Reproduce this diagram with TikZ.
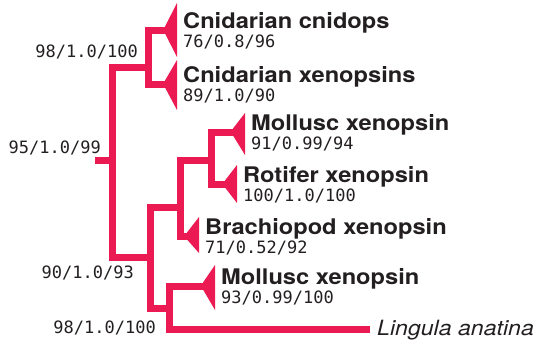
\documentclass[tikz,border=0pt]{standalone}
\usepackage{fontspec}
\newfontfamily\labfont{TeX Gyre Heros}[FakeStretch=1.1]
\newfontfamily\numfont{DejaVu Sans Mono}
\definecolor{treered}{RGB}{236,26,82}
\definecolor{ink}{RGB}{35,31,32}
\newcommand\treetip[7]{%
  \coordinate (#1) at (#2,#3);
  \fill[treered] (#2+12,#3-#4) -- (#2,#3-3.5) -- (#2,#3+3.5) -- (#2+12,#3+#5) -- cycle;
  \node[taxon] (#1-lab) at (#2+18,#3-2) {#6};
  \node[support] (#1-sup) at (#2+18,#3+17) {#7};
}
\begin{document}
\begin{tikzpicture}[x=1pt,y=-1pt,
  branch/.style={draw=treered, line width=7pt},
  taxon/.style={anchor=base west, inner sep=0pt, text=ink,
    font=\labfont\bfseries\fontsize{21.5}{24}\selectfont},
  support/.style={anchor=base west, inner sep=0pt, text=ink,
    font=\numfont\fontsize{17}{20}\selectfont},
  nodesup/.style={anchor=base east, inner sep=0pt, text=ink,
    font=\numfont\fontsize{17}{20}\selectfont},
  species/.style={anchor=base west, inner sep=0pt, text=ink,
    font=\labfont\itshape\fontsize{21}{24}\selectfont}]
\useasboundingbox (0,0) rectangle (538,343);

% tips
\treetip{cnid}{165}{30}{27}{27}{Cnidarian cnidops}{76/0.8/96}
\treetip{cnidx}{165}{84}{24}{26}{Cnidarian xenopsins}{89/1.0/90}
\treetip{mollA}{233}{132}{19}{23}{Mollusc xenopsin}{91/0.99/94}
\treetip{rot}{225}{184}{19}{19}{Rotifer xenopsin}{100/1.0/100}
\treetip{brach}{187}{236}{19}{17}{Brachiopod xenopsin}{71/0.52/92}
\treetip{mollB}{203}{286}{21}{24}{Mollusc xenopsin}{93/0.99/100}

% internal nodes
\coordinate (stub) at (95,160);
\coordinate (root) at (112,160);
\coordinate (cn) at (148,67);
\coordinate (bil) at (150,257);
\coordinate (lopho) at (180,207);
\coordinate (mr) at (211,160);
\coordinate (ml) at (169,308);
\coordinate (ling) at (370,329);

\draw[branch] (stub) -- (root);
\draw[branch] (root) |- (cn);
\draw[branch] (root) |- (bil);
\draw[branch] (cn) |- (cnid);
\draw[branch] (cn) |- (cnidx);
\draw[branch] (bil) |- (lopho);
\draw[branch] (bil) |- (ml);
\draw[branch] (lopho) |- (mr);
\draw[branch] (lopho) |- (brach);
\draw[branch] (mr) |- (mollA);
\draw[branch] (mr) |- (rot);
\draw[branch] (ml) |- (mollB);
\draw[branch] (ml) |- (ling);

\node[species] (ling-lab) at (377,335) {Lingula anatina};

% support values at internal nodes
\node[nodesup] (cn-sup) at (138,57) {98/1.0/100};
\node[nodesup] (root-sup) at (101,153) {95/1.0/99};
\node[nodesup] (bil-sup) at (134,278) {90/1.0/93};
\node[nodesup] (ml-sup) at (156,333) {98/1.0/100};
\end{tikzpicture}
\end{document}
